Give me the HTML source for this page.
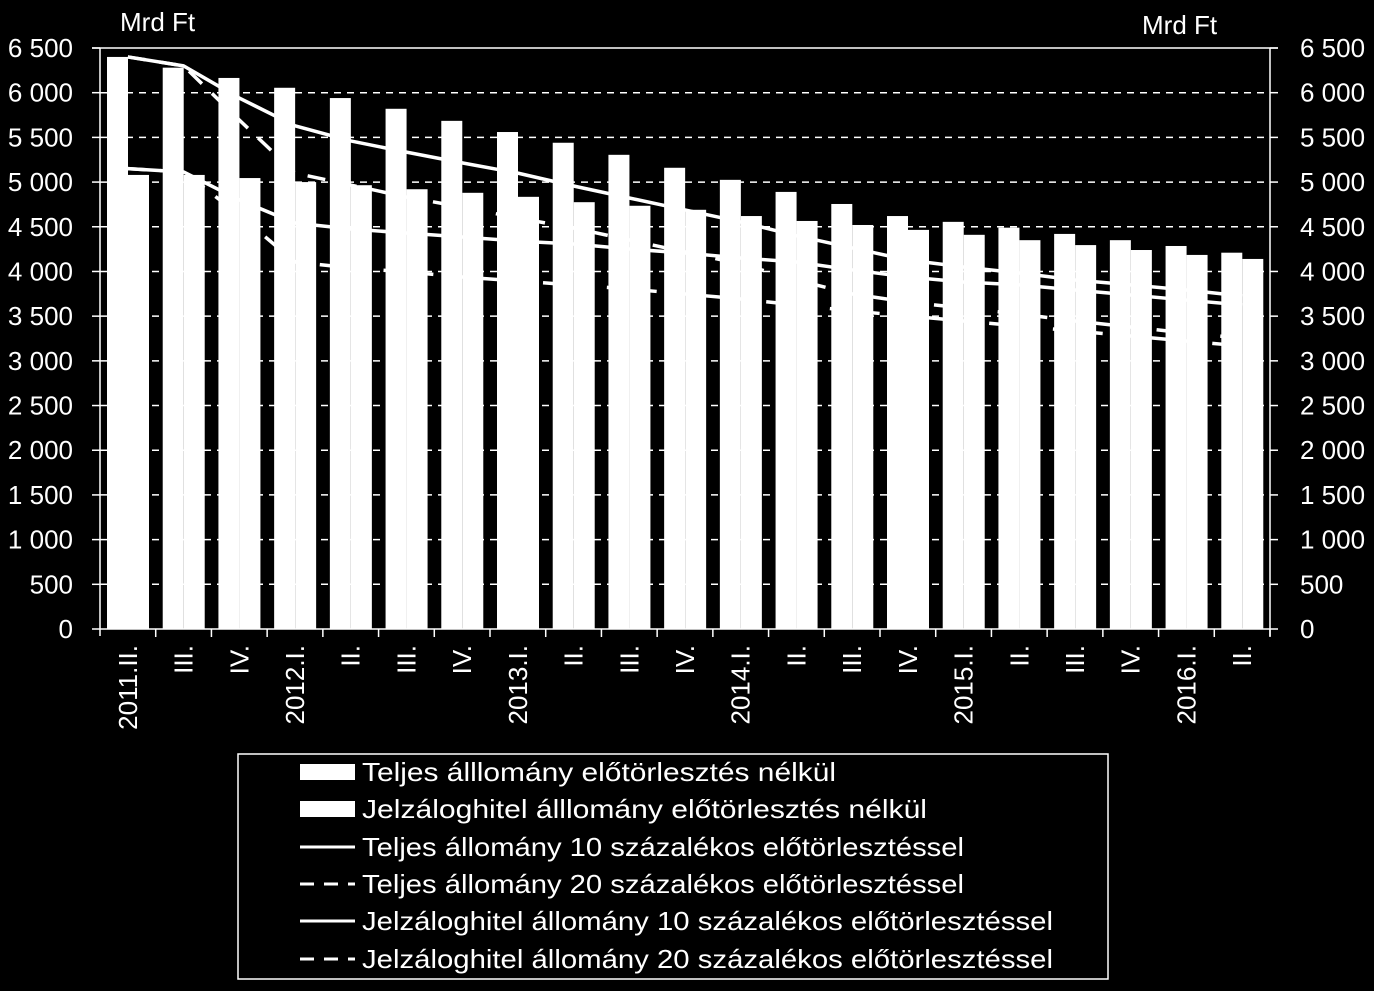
<!DOCTYPE html>
<html><head><meta charset="utf-8"><style>
html,body{margin:0;padding:0;background:#000;}
svg{display:block;font-family:"Liberation Sans","DejaVu Sans",sans-serif;}
</style></head><body>
<svg id="chart" width="1374" height="991" viewBox="0 0 1374 991" xmlns="http://www.w3.org/2000/svg">
<rect x="0" y="0" width="1374" height="991" fill="#000"/>
<g id="grid"></g>
<g id="bars"></g>
<g id="lines"></g>
<g id="axes"></g>
<text x="120" y="31" fill="#fff" font-size="26">Mrd Ft</text>
<text x="1142" y="34" fill="#fff" font-size="26">Mrd Ft</text>
<g>
<rect x="238" y="754" width="870" height="225" fill="#000" stroke="#fff" stroke-width="1.5"/>
<g><rect x="300" y="764" width="55" height="16" fill="#fff"/><text x="362" y="781" fill="#fff" font-size="26" textLength="474" lengthAdjust="spacingAndGlyphs">Teljes álllomány előtörlesztés nélkül</text></g>
<g><rect x="300" y="801" width="55" height="16" fill="#fff"/><text x="362" y="818" fill="#fff" font-size="26" textLength="565" lengthAdjust="spacingAndGlyphs">Jelzáloghitel álllomány előtörlesztés nélkül</text></g>
<g><line x1="300" y1="847" x2="355" y2="847" stroke="#fff" stroke-width="3"/><text x="362" y="856" fill="#fff" font-size="26" textLength="602" lengthAdjust="spacingAndGlyphs">Teljes állomány 10 százalékos előtörlesztéssel</text></g>
<g><line x1="300" y1="884" x2="355" y2="884" stroke="#fff" stroke-width="3" stroke-dasharray="14,10"/><text x="362" y="893" fill="#fff" font-size="26" textLength="602" lengthAdjust="spacingAndGlyphs">Teljes állomány 20 százalékos előtörlesztéssel</text></g>
<g><line x1="300" y1="921" x2="355" y2="921" stroke="#fff" stroke-width="3"/><text x="362" y="930" fill="#fff" font-size="26" textLength="691" lengthAdjust="spacingAndGlyphs">Jelzáloghitel állomány 10 százalékos előtörlesztéssel</text></g>
<g><line x1="300" y1="959" x2="355" y2="959" stroke="#fff" stroke-width="3" stroke-dasharray="14,10"/><text x="362" y="968" fill="#fff" font-size="26" textLength="691" lengthAdjust="spacingAndGlyphs">Jelzáloghitel állomány 20 százalékos előtörlesztéssel</text></g>
</g>
</svg>
<script>
const categories = ["2011.II.","III.","IV.","2012.I.","II.","III.","IV.","2013.I.","II.","III.","IV.","2014.I.","II.","III.","IV.","2015.I.","II.","III.","IV.","2016.I.","II."];
const teljesBars = [6400,6280,6165,6055,5940,5820,5685,5560,5440,5305,5160,5025,4890,4755,4620,4555,4490,4420,4350,4285,4210];
const jelzalogBars = [5080,5080,5045,5000,4965,4920,4880,4835,4775,4735,4690,4620,4565,4520,4465,4410,4350,4295,4240,4185,4140];
const teljes10 = [6400,6300,5940,5630,5460,5335,5215,5100,4956,4822,4688,4554,4400,4263,4128,4050,3983,3905,3850,3793,3725];
const teljes20 = [6400,6300,5695,5100,4967,4833,4720,4598,4486,4352,4218,4084,3905,3748,3658,3591,3524,3446,3379,3311,3255];
const jelzalog10 = [5150,5113,4800,4542,4475,4430,4385,4340,4307,4251,4206,4150,4106,4017,3938,3882,3850,3793,3737,3680,3625];
const jelzalog20 = [5150,5113,4632,4106,4040,3994,3938,3893,3849,3804,3748,3692,3625,3558,3502,3446,3390,3334,3278,3222,3166];
const yTicks = [0,500,1000,1500,2000,2500,3000,3500,4000,4500,5000,5500,6000,6500];
const yTickLabels = ["0","500","1 000","1 500","2 000","2 500","3 000","3 500","4 000","4 500","5 000","5 500","6 000","6 500"];

const NS="http://www.w3.org/2000/svg";
const X0=100,X1=1270,Y0=629,Y1=48,YMAX=6500;
const bandW=(X1-X0)/categories.length;
function y(v){return Y0-(v/YMAX)*(Y0-Y1);}
function xc(i){return X0+bandW*(i+0.5);}
function mk(tag,attrs,parent){const e=document.createElementNS(NS,tag);for(const k in attrs)e.setAttribute(k,attrs[k]);parent.appendChild(e);return e;}
const grid=document.getElementById('grid'),bars=document.getElementById('bars'),lines=document.getElementById('lines'),axes=document.getElementById('axes');

yTicks.forEach((t,i)=>{
  const yy=y(t);
  if(t>0&&t<YMAX){const g=mk('line',{x1:X0,x2:X1,y1:yy,y2:yy,stroke:'#fff','stroke-width':1.5,'stroke-dasharray':'7,6'},grid);
  
  }
  const tl=mk('line',{x1:X0-8,x2:X0,y1:yy,y2:yy,stroke:'#fff','stroke-width':1.5},axes);
  
  
  const tr=mk('line',{x1:X1,x2:X1+8,y1:yy,y2:yy,stroke:'#fff','stroke-width':1.5},axes);
  
  
  const l=mk('text',{x:73,y:yy+9,fill:'#fff','font-size':26,'text-anchor':'end'},axes);
  l.textContent=yTickLabels[i];
  
  
  const r=mk('text',{x:1300,y:yy+9,fill:'#fff','font-size':26},axes);
  r.textContent=yTickLabels[i];
  
  
});
const topBorder=mk('line',{x1:X0-8,x2:X1+8,y1:Y1,y2:Y1,stroke:'#fff','stroke-width':1.5},axes);


const la=mk('line',{x1:X0,x2:X0,y1:Y1,y2:Y0+7,stroke:'#fff','stroke-width':1.5},axes);


const ra=mk('line',{x1:X1,x2:X1,y1:Y1,y2:Y0+7,stroke:'#fff','stroke-width':1.5},axes);


const xa=mk('line',{x1:X0,x2:X1,y1:Y0,y2:Y0,stroke:'#fff','stroke-width':1.5},axes);



categories.forEach((c,i)=>{
  const bx=X0+bandW*i;
  const tk=mk('line',{x1:bx+bandW,x2:bx+bandW,y1:Y0,y2:Y0+8,stroke:'#fff','stroke-width':1.5},axes);
  
  
  const b1=mk('rect',{x:bx+7,y:y(teljesBars[i]),width:21,height:Y0-y(teljesBars[i]),fill:'#fff'},bars);
  
  
  const b2=mk('rect',{x:bx+28,y:y(jelzalogBars[i]),width:21,height:Y0-y(jelzalogBars[i]),fill:'#fff'},bars);
  
  
  const t=mk('text',{x:0,y:0,fill:'#fff','font-size':26,'text-anchor':'end',transform:`translate(${xc(i)+9},645) rotate(-90)`},axes);
  t.textContent=c;
  
  
});

function series(vals,dash,name){
  const p=mk('polyline',{points:vals.map((v,i)=>xc(i)+','+y(v)).join(' '),fill:'none',stroke:'#fff','stroke-width':3.5,'stroke-linejoin':'round'},lines);
  if(dash)p.setAttribute('stroke-dasharray','18,14');
  
  
}
series(teljes10,false,'line-teljes-10');
series(teljes20,true,'line-teljes-20');
series(jelzalog10,false,'line-jelzalog-10');
series(jelzalog20,true,'line-jelzalog-20');
</script>
</body></html>
